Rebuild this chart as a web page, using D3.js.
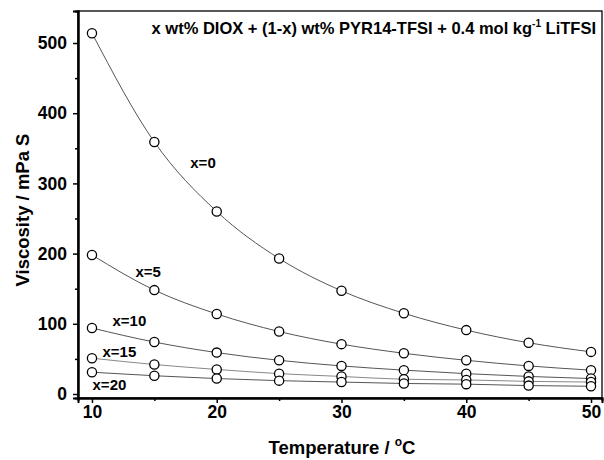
<!DOCTYPE html>
<html>
<head>
<meta charset="utf-8">
<script src="https://cdn.jsdelivr.net/npm/d3@7"></script>
<style>
  body { margin: 0; background: #fff; }
  text { font-family: "Liberation Sans", Arial, sans-serif; font-weight: bold; }
</style>
</head>
<body>
<svg class="chart"></svg>
<script>
// data
const temps = [10, 15, 20, 25, 30, 35, 40, 45, 50];
const visc0  = [514, 359, 260, 193, 147, 115, 91, 73, 60];
const visc5  = [198, 148, 114, 89, 71, 58, 48, 40, 34];
const visc10 = [94, 74, 59, 48, 40, 34, 29, 25, 22];
const visc15 = [51, 42, 35, 29, 25, 21, 20, 18, 17];
const visc20 = [31, 26, 22, 19, 17, 15, 14, 12, 11];
const seriesNames = ["x=0", "x=5", "x=10", "x=15", "x=20"];
const xTicks = [10, 20, 30, 40, 50];
const yTicks = [0, 100, 200, 300, 400, 500];

let allSeries = [visc0, visc5, visc10, visc15, visc20];

let width = 604, height = 460;
let svg = d3.select(".chart").attr("width", width).attr("height", height);

// plot box
let boxL = 78, boxR = 602, boxT = 11, boxB = 398;

let x = d3.scaleLinear().domain([8.88, 50.88]).range([boxL, boxR]);
let y = d3.scaleLinear().domain([-5.7, 545.6]).range([boxB, boxT]);

// frame
svg.append("rect")
    .attr("x", boxL).attr("y", boxT)
    .attr("width", boxR - boxL).attr("height", boxB - boxT)
    .attr("fill", "none").attr("stroke", "#000").attr("stroke-width", 1.3);

// axes
let xAxis = svg.append("g").attr("transform", `translate(0,${boxB})`)
    .call(d3.axisBottom(x).tickValues(xTicks).tickSize(5).tickPadding(3).tickFormat(d3.format("d")));
let xMinor = svg.append("g").attr("transform", `translate(0,${boxB})`)
    .call(d3.axisBottom(x).tickValues([15, 25, 35, 45]).tickSize(3).tickFormat(""));
let yAxis = svg.append("g").attr("transform", `translate(${boxL},0)`)
    .call(d3.axisLeft(y).tickValues(yTicks).tickSize(5).tickPadding(6).tickFormat(d3.format("d")));
let yMinor = svg.append("g").attr("transform", `translate(${boxL},0)`)
    .call(d3.axisLeft(y).tickValues([50, 150, 250, 350, 450]).tickSize(3).tickFormat(""));

for (let g of [xAxis, xMinor, yAxis, yMinor]) {
    g.select(".domain").attr("stroke", "#000").attr("stroke-width", 2);
    g.selectAll(".tick line").attr("stroke", "#000").attr("stroke-width", 1.5);
    g.selectAll(".tick text").attr("fill", "#000").attr("font-size", "17.5px")
        .attr("font-family", "Liberation Sans, Arial, sans-serif").attr("font-weight", "bold");
}

// lines
let line = d3.line()
    .x((d, i) => x(temps[i]))
    .y(d => y(d))
    .curve(d3.curveMonotoneX);

allSeries.forEach((s, k) => {
    svg.append("path")
        .attr("d", line(s))
        .attr("fill", "none")
        .attr("stroke", k == 3 ? "#888" : "#555")
        .attr("stroke-width", 1);
});

// markers
allSeries.forEach(s => {
    svg.selectAll(null)
        .data(s).enter()
        .append("circle")
        .attr("cx", (d, i) => x(temps[i]))
        .attr("cy", d => y(d))
        .attr("r", 4.6)
        .attr("fill", "#fff")
        .attr("stroke", "#000")
        .attr("stroke-width", 1.3);
});

// series labels (data coords)
let labelAt = [[18.9, 330], [14.5, 174], [13.0, 104], [12.2, 60], [11.4, 13]];
seriesNames.forEach((name, k) => {
    svg.append("text")
        .attr("x", x(labelAt[k][0]))
        .attr("y", y(labelAt[k][1]))
        .attr("dy", "0.35em")
        .attr("text-anchor", "middle")
        .attr("font-size", "15px")
        .text(name);
});

// title
let title = svg.append("text")
    .attr("x", 596).attr("y", 34)
    .attr("text-anchor", "end")
    .attr("font-size", "16.5px");
title.append("tspan").text("x wt% DIOX + (1-x) wt% PYR14-TFSI + 0.4 mol kg");
title.append("tspan").attr("dy", -7).attr("font-size", "10px").text("-1");
title.append("tspan").attr("dy", 7).text(" LiTFSI");

// axis titles
let xt = svg.append("text")
    .attr("x", 342).attr("y", 454)
    .attr("text-anchor", "middle")
    .attr("font-size", "18.5px");
xt.append("tspan").text("Temperature / ");
xt.append("tspan").attr("dy", -8).attr("font-size", "12px").text("o");
xt.append("tspan").attr("dy", 8).text("C");

svg.append("text")
    .attr("transform", "translate(29,210) rotate(-90)")
    .attr("text-anchor", "middle")
    .attr("font-size", "18.5px")
    .text("Viscosity / mPa S");
</script>
</body>
</html>
